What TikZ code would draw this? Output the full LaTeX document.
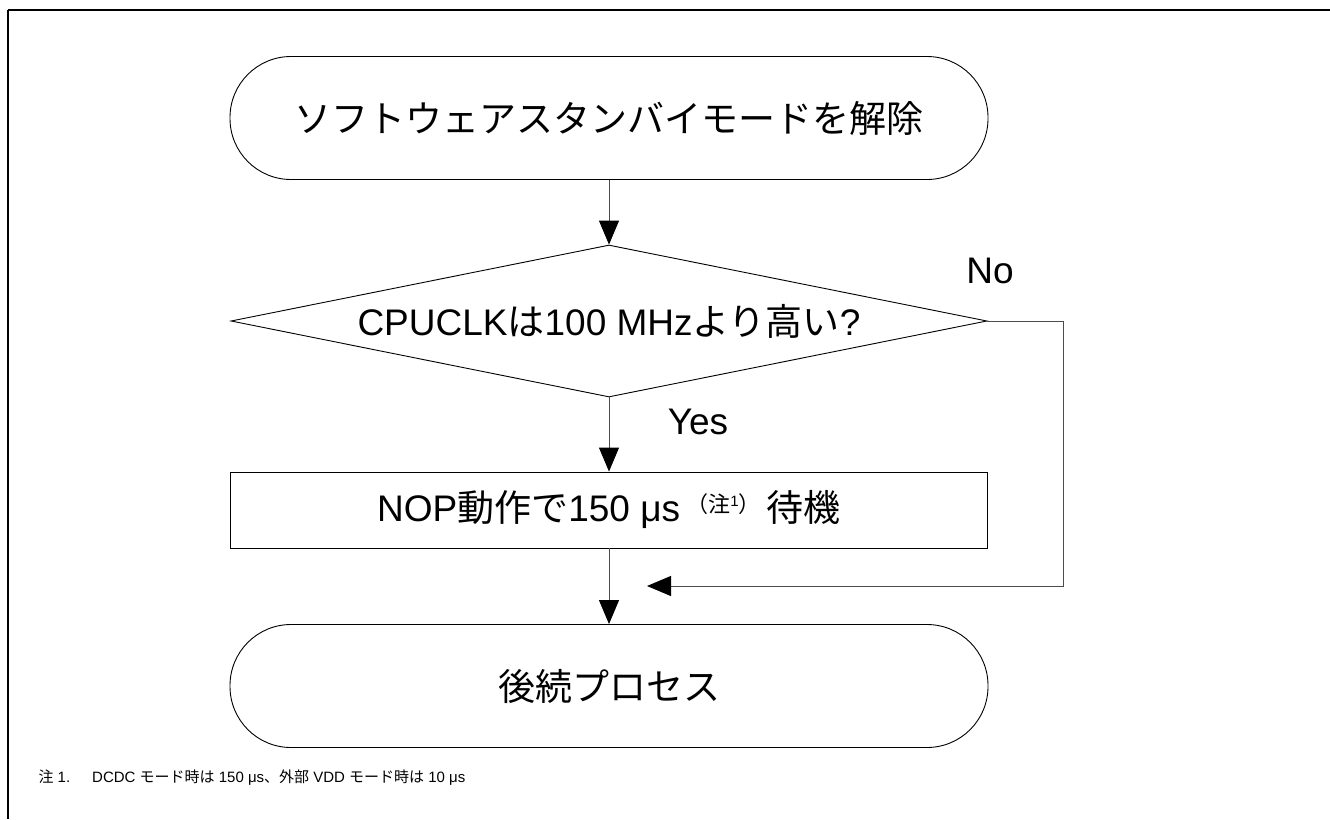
\documentclass[tikz,border=0pt]{standalone}
\usepackage{fontspec}
\setmainfont{Liberation Sans}
\newfontfamily\jp{Noto Sans CJK JP}
\usetikzlibrary{shapes.geometric, arrows.meta}
\tikzstyle{arrow} = [draw=black!70, line width=1pt, -{Triangle[length=24pt,width=20pt,color=black]}]
\tikzstyle{terminal} = [draw, line width=0.9pt, rounded corners=61pt, minimum width=758pt, minimum height=123pt, inner sep=0pt]
\tikzstyle{decision} = [diamond, draw, line width=0.9pt, minimum width=756pt, minimum height=152pt, inner sep=0pt]
\tikzstyle{process} = [rectangle, draw, line width=0.9pt, minimum width=757pt, minimum height=76pt, inner sep=0pt]

\begin{document}
\begin{tikzpicture}[x=1pt, y=-1pt, every node/.style={font=\fontsize{37}{44}\selectfont}]
  \useasboundingbox (0,0) rectangle (1330,819);

  % Page frame
  \draw[line width=2.5pt] (8,10) -- (1330,10);
  \draw[line width=2pt] (8,10) -- (8,819);

  % Flow
  \node[terminal] (start) at (609,118) {\jp ソフトウェアスタンバイモードを解除};
  \node[decision, label=center:{CPUCLK{\jp は}100 MHz{\jp より高い}?}] (check) at (609,321) {};
  \node[process] (wait) at (609,510) {NOP{\jp 動作で}150 μs\,{\fontsize{22}{22}\selectfont\raisebox{9pt}{\jp （注}\raisebox{15pt}{\fontsize{15}{15}\selectfont 1}\raisebox{9pt}{\jp ）}}\,{\jp 待機}};
  \node[terminal] (done) at (609,686) {\jp 後続プロセス};

  % Branch labels
  \node (yes) at (698,422) {Yes};
  \node (no) at (990,271) {No};
  \coordinate (join) at (647,586);

  % Connectors
  \draw[arrow] (start) -- (check);
  \draw[arrow] (check) -- (wait);
  \draw[arrow] (wait) -- (done);
  \draw[arrow] (check.east) -- ++(76,0) |- (join);

  % Note
  \node[anchor=west, font=\fontsize{15}{18}\selectfont] (note) at (35,778) {{\jp 注} 1.\hspace{22pt}DCDC {\jp モード時は} 150 μs{\jp 、外部} VDD {\jp モード時は} 10 μs};
\end{tikzpicture}
\end{document}
